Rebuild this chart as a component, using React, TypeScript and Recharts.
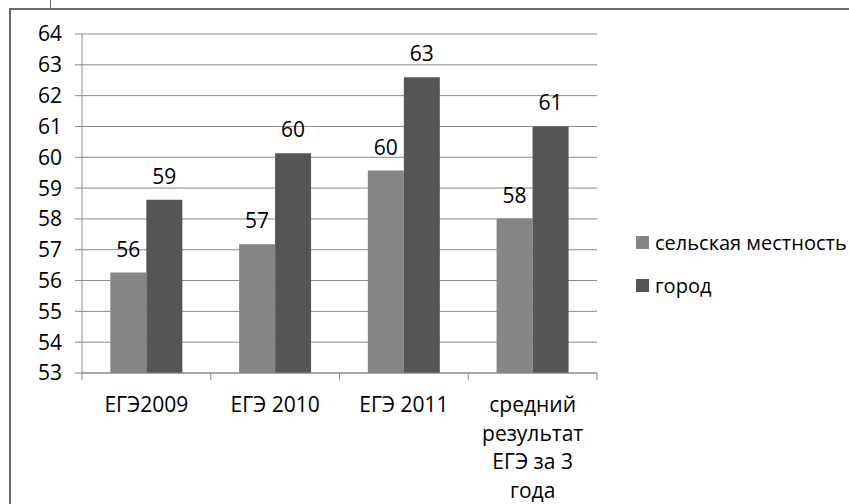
import { BarChart, Bar, XAxis, YAxis, CartesianGrid, LabelList } from "recharts";

const categories = ["ЕГЭ2009", "ЕГЭ 2010", "ЕГЭ 2011", "средний результат ЕГЭ за 3 года"];
const categoryLines = [["ЕГЭ2009"], ["ЕГЭ 2010"], ["ЕГЭ 2011"], ["средний", "результат", "ЕГЭ за 3", "года"]];
const rural = [56.26, 57.18, 59.57, 58.01];
const city = [58.62, 60.13, 62.6, 61.0];
const yTicks = [53, 54, 55, 56, 57, 58, 59, 60, 61, 62, 63, 64];

const SERIES = [
  { key: "rural", name: "сельская местность", color: "#858585" },
  { key: "city", name: "город", color: "#555555" },
];

const data = categories.map((c, i) => ({ name: c, rural: rural[i], city: city[i] }));

const FONT = "'Open Sans', sans-serif";
const FS = 21;
const GRID = "#8a8a8a";
const BAND = (597 - 82) / categories.length;

const CategoryTick = (props: any) => {
  const { x, y, index } = props;
  const lines = categoryLines[index] || [];
  const half = BAND / 2;
  return (
    <g>
      <line x1={x - half} x2={x - half} y1={y - 7} y2={y} stroke={GRID} />
      {index === categories.length - 1 && (
        <line x1={x + half} x2={x + half} y1={y - 7} y2={y} stroke={GRID} />
      )}
      <text x={x} y={y + 32} textAnchor="middle" fill="#000" fontSize={FS} fontFamily={FONT}>
        {lines.map((l, i) => (
          <tspan key={i} x={x} dy={i === 0 ? 0 : 28.5}>
            {l}
          </tspan>
        ))}
      </text>
    </g>
  );
};

export default function App() {
  return (
    <div style={{ position: "absolute", left: 0, top: 0, width: 849, height: 504, overflow: "hidden", background: "#fff", fontFamily: FONT }}>
      {/* frame bits */}
      <div style={{ position: "absolute", left: 9, top: 8, width: 840, height: 2, background: "#6a6a6a" }} />
      <div style={{ position: "absolute", left: 9, top: 8, width: 2, height: 496, background: "#6a6a6a" }} />
      <div style={{ position: "absolute", left: 50, top: 0, width: 1, height: 8, background: "#6a6a6a" }} />

      <BarChart
        width={849}
        height={504}
        data={data}
        margin={{ top: 34, right: 252, bottom: 0, left: 0 }}
        barCategoryGap="22%"
        barGap={0}
      >
        <CartesianGrid horizontal vertical={false} stroke={GRID} strokeWidth={1} />
        <XAxis
          dataKey="name"
          height={131}
          interval={0}
          axisLine={{ stroke: GRID }}
          tickLine={false}
          tickSize={7}
          tickMargin={0}
          tick={<CategoryTick />}
        />
        <YAxis
          width={82}
          domain={[53, 64]}
          ticks={yTicks}
          interval={0}
          allowDataOverflow
          axisLine={{ stroke: GRID }}
          tickLine={{ stroke: GRID }}
          tickSize={7}
          tickMargin={13}
          tick={{ fill: "#000", fontSize: FS, fontFamily: FONT }}
        />
        {SERIES.map((s) => (
          <Bar key={s.key} dataKey={s.key} name={s.name} fill={s.color} isAnimationActive={false}>
            <LabelList
              dataKey={s.key}
              position="top"
              offset={16}
              formatter={(v: any) => Math.round(Number(v))}
              style={{ fill: "#000", fontSize: FS, fontFamily: FONT }}
            />
          </Bar>
        ))}
      </BarChart>

      <div style={{ position: "absolute", left: 636, top: 227 }}>
        {SERIES.map((s) => (
          <div key={s.key} style={{ display: "flex", alignItems: "center", height: 30, marginBottom: 13, whiteSpace: "nowrap" }}>
            <span style={{ width: 13, height: 13, background: s.color, marginRight: 6, display: "inline-block", flexShrink: 0 }} />
            <span style={{ fontSize: 20, color: "#000" }}>{s.name}</span>
          </div>
        ))}
      </div>
    </div>
  );
}
